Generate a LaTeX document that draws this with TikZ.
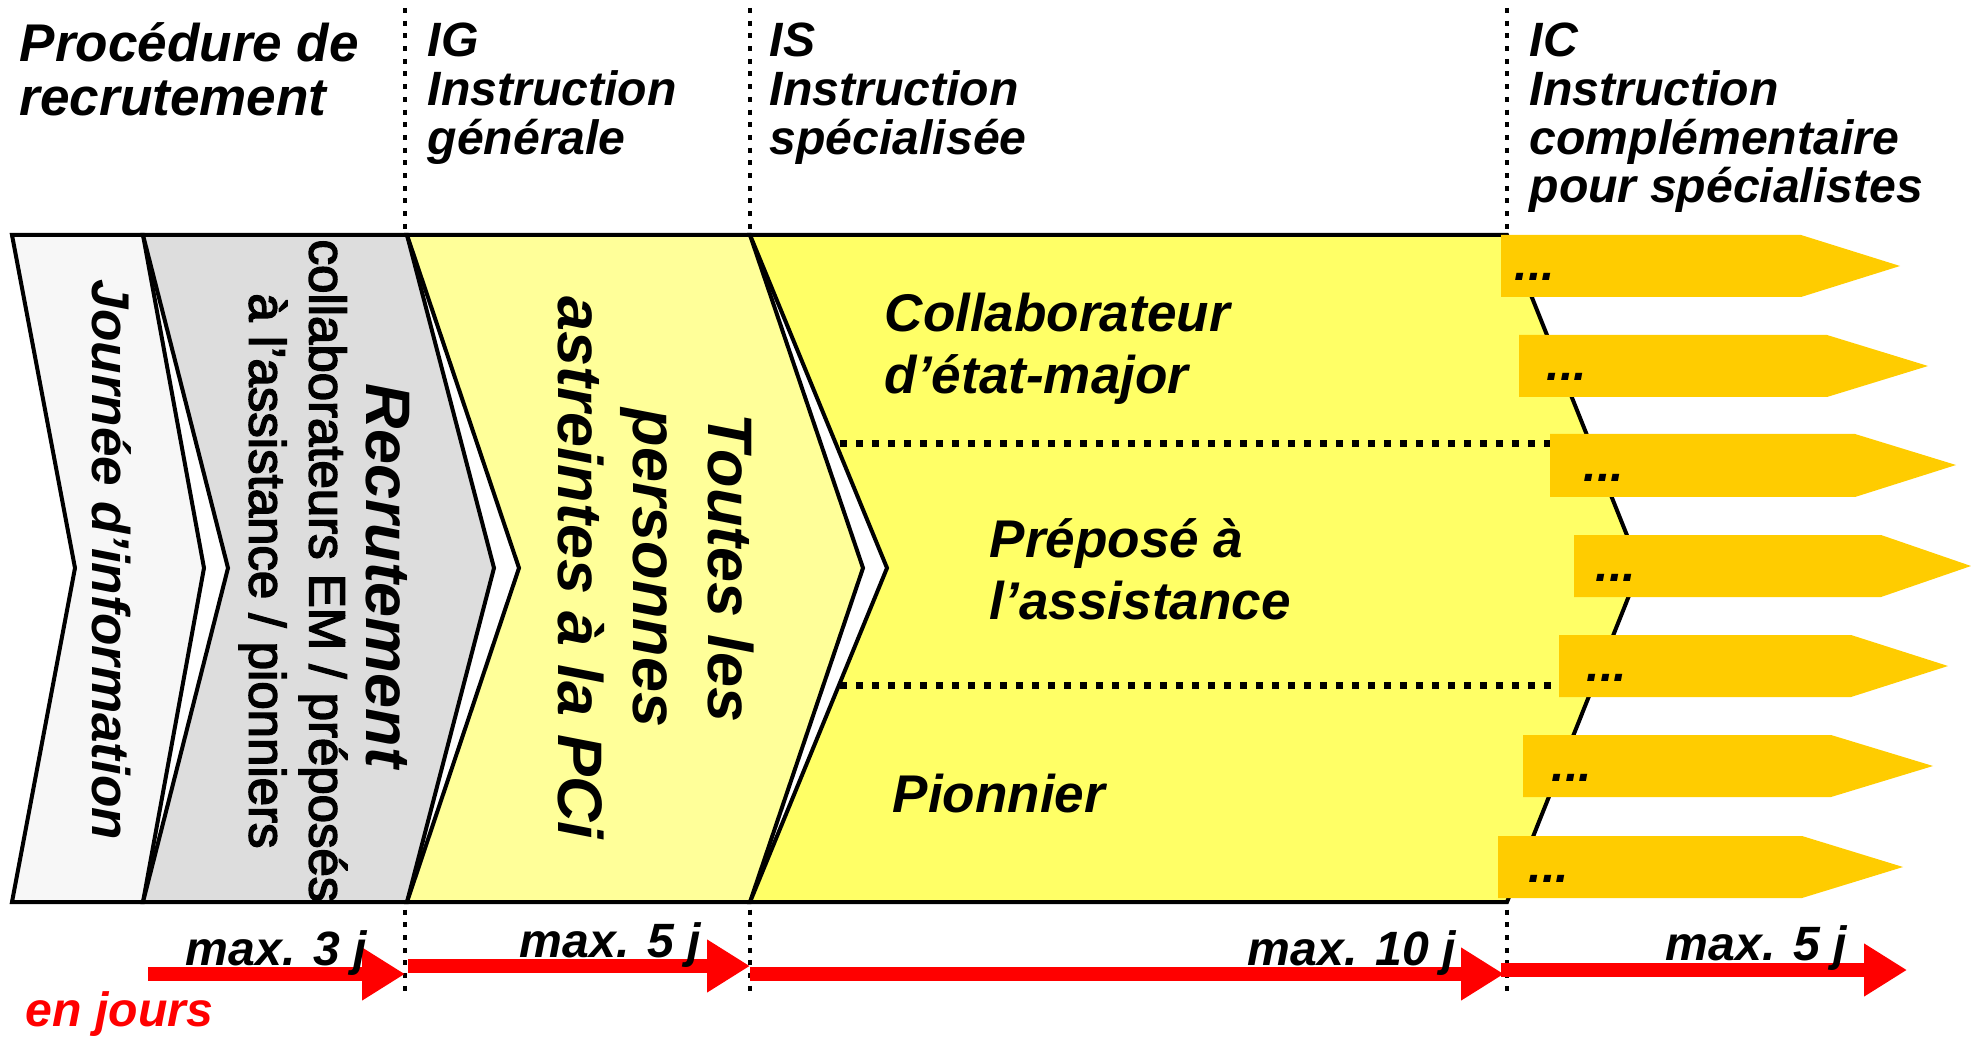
\documentclass[tikz,border=0pt]{standalone}
\usepackage{fontspec}
\setmainfont{Liberation Sans}
\newfontfamily\subfont[FakeBold=3]{Liberation Sans}
\usepackage{tikz}
\usetikzlibrary{arrows.meta}
\definecolor{infogray}{HTML}{F7F7F7}
\definecolor{recgray}{HTML}{DDDDDD}
\definecolor{igyellow}{HTML}{FFFF99}
\definecolor{isyellow}{HTML}{FFFF66}
\definecolor{icorange}{HTML}{FFCC00}
\tikzset{
    phase/.style={draw=black,line width=0.4mm,line join=miter},
    boundary/.style={draw=black,line width=0.45mm,dash pattern=on 0.5mm off 0.77mm},
    divider/.style={draw=black,line width=0.7mm,dash pattern=on 0.7mm off 0.9mm},
    header/.style={anchor=north west,align=left,inner sep=0pt,font=\fontsize{13.7}{13.9}\selectfont\bfseries\itshape},
    vertlabel/.style={rotate=-90,align=center,inner sep=0pt},
    role/.style={anchor=north west,align=left,inner sep=0pt,font=\fontsize{15.1}{17.6}\selectfont\bfseries\itshape},
    duration/.style={anchor=base west,inner sep=0pt,font=\fontsize{13.7}{14}\selectfont\bfseries\itshape},
    timeline/.style={red,line width=1.4mm,-{Triangle[length=4.3mm,width=5mm]}},
    icarrow/.style={fill=icorange},
    more/.style={anchor=base west,inner sep=0pt,font=\fontsize{13.7}{14}\selectfont\bfseries\itshape},
    }
\begin{document}
\begin{tikzpicture}[x=0.1mm,y=-0.1mm]
    \useasboundingbox (0,0) rectangle (1971,1039);
    % phase boundaries
    \draw[boundary] (405,8) -- (405,992);
    \draw[boundary] (750,8) -- (750,992);
    \draw[boundary] (1507,8) -- (1507,992);

    % chevrons
    \filldraw[phase,fill=infogray] (12,235) -- (143,235) -- (204,568) -- (143,902) -- (12,902) -- (75,568) -- cycle;
    \filldraw[phase,fill=recgray] (143,235) -- (407,235) -- (494,568) -- (407,902) -- (143,902) -- (228,568) -- cycle;
    \filldraw[phase,fill=igyellow] (407,235) -- (750,235) -- (863,568) -- (750,902) -- (407,902) -- (519,568) -- cycle;
    \filldraw[phase,fill=isyellow] (750,235) -- (1507,235) -- (1640,568) -- (1507,902) -- (750,902) -- (887,568) -- cycle;
    \draw[divider] (840,444) -- (1560,444);
    \draw[divider] (840,685) -- (1565,685);

    % IC arrows
    \fill[icarrow] (1501,235) -- (1801,235) -- (1900,266) -- (1801,297) -- (1501,297) -- cycle;
    \fill[icarrow] (1519,335) -- (1827,335) -- (1928,366) -- (1827,397) -- (1519,397) -- cycle;
    \fill[icarrow] (1550,434) -- (1855,434) -- (1956,465) -- (1855,497) -- (1550,497) -- cycle;
    \fill[icarrow] (1574,535) -- (1881,535) -- (1971,566) -- (1881,597) -- (1574,597) -- cycle;
    \fill[icarrow] (1559,635) -- (1851,635) -- (1948,666) -- (1851,697) -- (1559,697) -- cycle;
    \fill[icarrow] (1523,735) -- (1831,735) -- (1933,766) -- (1831,797) -- (1523,797) -- cycle;
    \fill[icarrow] (1498,836) -- (1802,836) -- (1903,867) -- (1802,898) -- (1498,898) -- cycle;
    \node[more] (m1) at (1514,281) {...};
    \node[more] (m2) at (1546,381) {...};
    \node[more] (m3) at (1583,481) {...};
    \node[more] (m4) at (1595,581) {...};
    \node[more] (m5) at (1586,681) {...};
    \node[more] (m6) at (1551,781) {...};
    \node[more] (m7) at (1528,882) {...};

    % headers
    \node[header,font=\fontsize{15.1}{15.4}\selectfont\bfseries\itshape] (proc) at (19,22) {Procédure de\\recrutement};
    \node[header] (ig) at (427,22) {IG\\Instruction\\générale};
    \node[header] (is) at (769,22) {IS\\Instruction\\spécialisée};
    \node[header] (ic) at (1529,22) {IC\\Instruction\\complémentaire\\pour spécialistes};

    % texts in the chevrons
    \node[vertlabel,font=\fontsize{15.1}{16}\selectfont\bfseries\itshape] (info) at (112,560) {Journée d’information};
    \node[vertlabel,font=\fontsize{17.9}{18}\selectfont\bfseries\itshape] (recr) at (388,576) {Recrutement};
    \node[vertlabel,font=\fontsize{14.5}{17.1}\selectfont\subfont] (recrsub) at (293,571) {collaborateurs EM / préposés\\à l’assistance / pionniers};
    \node[vertlabel,font=\fontsize{17.9}{21.3}\selectfont\bfseries\itshape] (all) at (656,568) {Toutes les\\personnes\\astreintes à la PCi};
    \node[role] (em) at (884,292) {Collaborateur\\d’état-major};
    \node[role] (assist) at (989,518) {Préposé à\\l’assistance};
    \node[role] (pion) at (892,773) {Pionnier};

    % durations
    \draw[timeline] (148,974) -- (405,974);
    \draw[timeline] (408,966) -- (750,966);
    \draw[timeline] (750,974) -- (1504,974);
    \draw[timeline] (1501,970) -- (1907,970);
    \node[duration] (d1) at (185,965) {max. 3 j};
    \node[duration] (d2) at (519,957) {max. 5 j};
    \node[duration] (d3) at (1247,965) {max. 10 j};
    \node[duration] (d4) at (1665,960) {max. 5 j};
    \node[duration,red] (unit) at (25,1026) {en jours};
\end{tikzpicture}
\end{document}
